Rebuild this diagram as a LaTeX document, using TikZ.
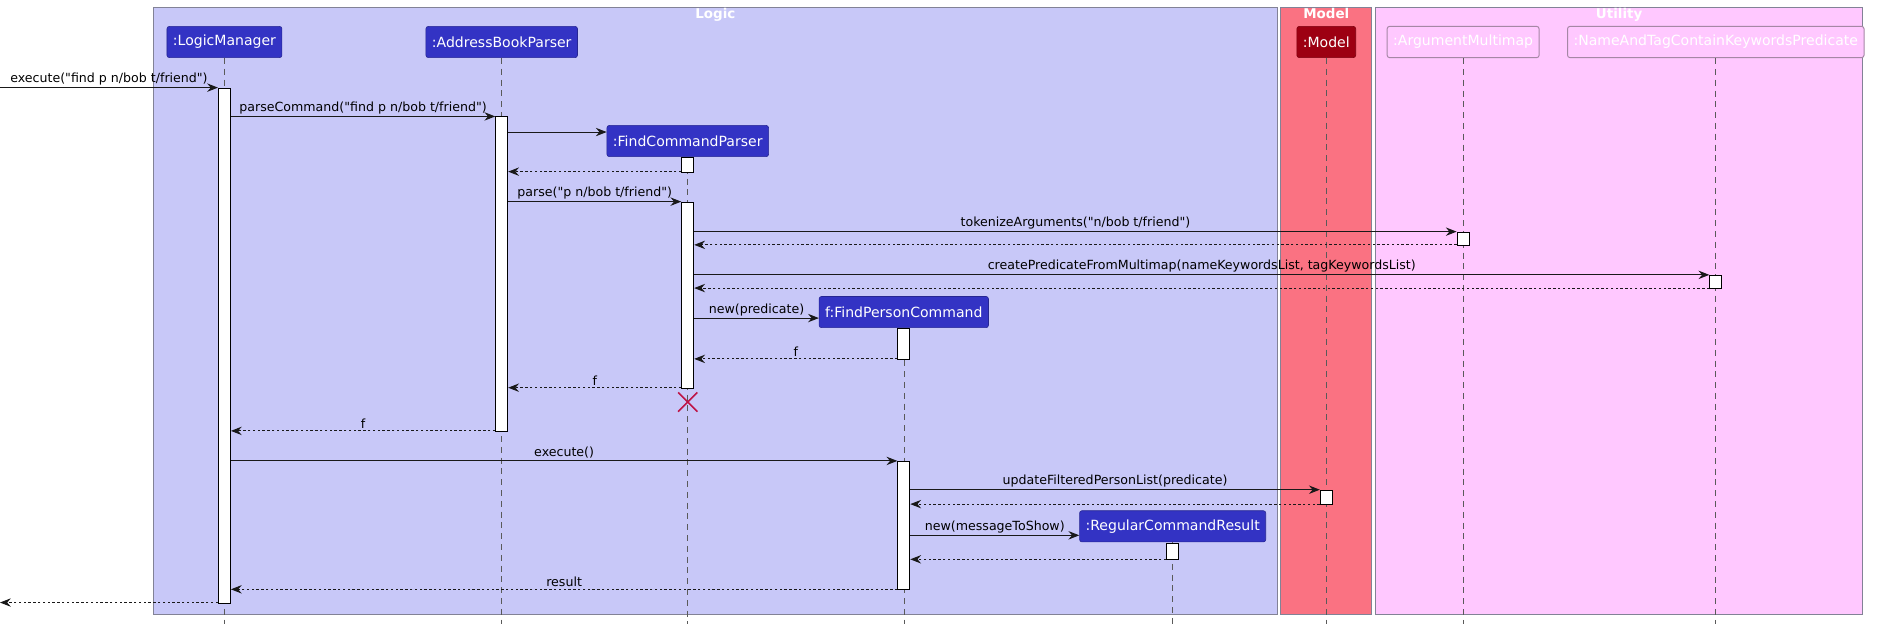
\documentclass[tikz,border=0pt]{standalone}
\usepackage{fontspec}
\setmainfont{DejaVu Sans}[Ligatures=TeXOff]
\usetikzlibrary{arrows.meta,calc}
\definecolor{logicbg}{RGB}{200,200,248}
\definecolor{modelbg}{RGB}{250,114,130}
\definecolor{utilbg}{RGB}{255,200,255}
\definecolor{framegray}{RGB}{130,130,150}
\definecolor{partblue}{RGB}{51,51,196}
\definecolor{partred}{RGB}{157,0,18}
\definecolor{killred}{RGB}{190,20,70}
\definecolor{utilborder}{RGB}{165,135,165}
\definecolor{lifegray}{RGB}{90,90,90}
\begin{document}
\begin{tikzpicture}[x=1pt,y=-1pt,
  frame/.style={draw=framegray, line width=0.8pt},
  frametitle/.style={text=white, font=\fontsize{11.2}{13}\selectfont\bfseries, anchor=north, inner sep=0pt},
  part/.style={rounded corners=2pt, fill=partblue, draw=partblue!75!black, line width=0.5pt, text=white,
    font=\fontsize{11.7}{14}\selectfont, minimum height=26pt, inner xsep=5pt, inner ysep=0pt},
  modelpart/.style={part, fill=partred, draw=partred!80!black},
  utilpart/.style={part, fill=utilbg, draw=utilborder, line width=0.8pt},
  lifeline/.style={draw=lifegray, line width=0.5pt, dash pattern=on 5pt off 4pt},
  act/.style={draw=black, fill=white, line width=0.8pt, minimum width=10pt, inner sep=0pt, anchor=north},
  msg/.style={draw=black!90, line width=0.8pt, -{Stealth[length=9pt,width=7pt,inset=3pt]}},
  ret/.style={msg, dash pattern=on 2pt off 2pt},
  lbl/.style={font=\fontsize{10.5}{12}\selectfont, inner sep=1.5pt, anchor=south}
]
\useasboundingbox (0,0) rectangle (1568,522.4);

% frames
\draw[frame, fill=logicbg] (128,6) rectangle (1064,512);
\draw[frame, fill=modelbg] (1067,6) rectangle (1143,512);
\draw[frame, fill=utilbg] (1146,6) rectangle (1552,512);
\node[frametitle] (tLogic) at (596,7) {Logic};
\node[frametitle] (tModel) at (1105,7) {Model};
\node[frametitle] (tUtil) at (1349,7) {Utility};

% participants
\node[part] (pLM) at (187,35) {:LogicManager};
\node[part] (pABP) at (418,35) {:AddressBookParser};
\node[part] (pFCP) at (573,117.5) {:FindCommandParser};
\node[part] (pFPC) at (753,260) {f:FindPersonCommand};
\node[part] (pRCR) at (977,438.5) {:RegularCommandResult};
\node[modelpart] (pModel) at (1105,35) {:Model};
\node[utilpart] (pAM) at (1219,35) {:ArgumentMultimap};
\node[utilpart] (pNP) at (1429.5,35) {:NameAndTagContainKeywordsPredicate};

% lifeline ends
\coordinate (eLM) at (187,520);
\coordinate (eABP) at (418,520);
\coordinate (eFCP) at (573,520);
\coordinate (eFPC) at (753,520);
\coordinate (eRCR) at (977,520);
\coordinate (eModel) at (1105,520);
\coordinate (eAM) at (1219,520);
\coordinate (eNP) at (1429.5,520);

\draw[lifeline] (pLM.south) -- (eLM);
\draw[lifeline] (pABP.south) -- (eABP);
\draw[lifeline] (pFCP.south) -- (eFCP);
\draw[lifeline] (pFPC.south) -- (eFPC);
\draw[lifeline] (pRCR.south) -- (eRCR);
\draw[lifeline] (pModel.south) -- (eModel);
\draw[lifeline] (pAM.south) -- (eAM);
\draw[lifeline] (pNP.south) -- (eNP);

% activations
\node[act, minimum height=429pt] (aLM) at (187,73) {};
\node[act, minimum height=262pt] (aABP) at (418,97) {};
\node[act, minimum height=12pt] (aFCPa) at (573,131) {};
\node[act, minimum height=155pt] (aFCPb) at (573,168) {};
\node[act, minimum height=11pt] (aAM) at (1219,193) {};
\node[act, minimum height=11pt] (aNP) at (1429.5,229) {};
\node[act, minimum height=26pt] (aFPCa) at (753,273) {};
\node[act, minimum height=107pt] (aFPCb) at (753,384) {};
\node[act, minimum height=12pt] (aModel) at (1105,408) {};
\node[act, minimum height=14pt] (aRCR) at (977,452) {};

% outer endpoints
\coordinate (inStart) at (0,73);
\coordinate (outEnd) at (0,502);

% messages
\draw[msg] (inStart) -- node[lbl] (l1) {execute("find p n/bob t/friend")} (aLM.west |- inStart);
\draw[msg] (aLM.east |- 0,97) -- node[lbl] (l2) {parseCommand("find p n/bob t/friend")} (aABP.west |- 0,97);
\draw[msg] (aABP.east |- 0,110) -- (pFCP.west |- 0,110);
\draw[ret] (aFCPa.west |- 0,143) -- (aABP.east |- 0,143);
\draw[msg] (aABP.east |- 0,168) -- node[lbl] (l5) {parse("p n/bob t/friend")} (aFCPb.west |- 0,168);
\draw[msg] (aFCPb.east |- 0,193) -- node[lbl] (l6) {tokenizeArguments("n/bob t/friend")} (aAM.west |- 0,193);
\draw[ret] (aAM.west |- 0,204) -- (aFCPb.east |- 0,204);
\draw[msg] (aFCPb.east |- 0,229) -- node[lbl] (l8) {createPredicateFromMultimap(nameKeywordsList, tagKeywordsList)} (aNP.west |- 0,229);
\draw[ret] (aNP.west |- 0,240) -- (aFCPb.east |- 0,240);
\draw[msg] (aFCPb.east |- 0,265) -- node[lbl] (l10) {new(predicate)} (pFPC.west |- 0,265);
\draw[ret] (aFPCa.west |- 0,299) -- node[lbl] (l11) {f} (aFCPb.east |- 0,299);
\draw[ret] (aFCPb.west |- 0,323) -- node[lbl] (l12) {f} (aABP.east |- 0,323);
\draw[ret] (aABP.west |- 0,359) -- node[lbl] (l13) {f} (aLM.east |- 0,359);
\draw[msg] (aLM.east |- 0,384) -- node[lbl] (l14) {execute()} (aFPCb.west |- 0,384);
\draw[msg] (aFPCb.east |- 0,408) -- node[lbl] (l15) {updateFilteredPersonList(predicate)} (aModel.west |- 0,408);
\draw[ret] (aModel.west |- 0,420) -- (aFPCb.east |- 0,420);
\draw[msg] (aFPCb.east |- 0,446) -- node[lbl] (l17) {new(messageToShow)} (pRCR.west |- 0,446);
\draw[ret] (aRCR.west |- 0,466) -- (aFPCb.east |- 0,466);
\draw[ret] (aFPCb.west |- 0,491) -- node[lbl] (l19) {result} (aLM.east |- 0,491);
\draw[ret] (aLM.west |- outEnd) -- (outEnd);

% destroy mark
\coordinate (xFCP) at (573,335);
\draw[killred, line width=1.3pt] ($(xFCP)+(-8,-8)$) -- ($(xFCP)+(8,8)$);
\draw[killred, line width=1.3pt] ($(xFCP)+(-8,8)$) -- ($(xFCP)+(8,-8)$);
\end{tikzpicture}
\end{document}
